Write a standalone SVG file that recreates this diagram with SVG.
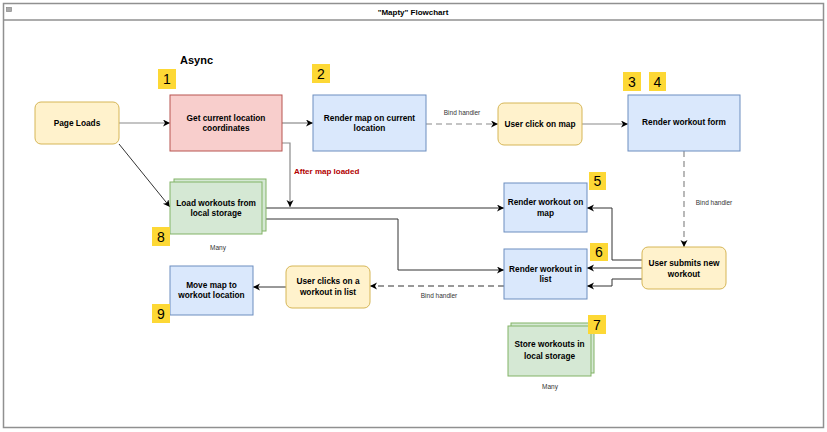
<svg xmlns="http://www.w3.org/2000/svg" width="827" height="432" viewBox="0 0 827 432">
<style>
text{font-family:"Liberation Sans",Arial,sans-serif;}
.lbl{font-size:8.3px;font-weight:bold;fill:#000;text-anchor:middle;}
.num{font-size:14px;fill:#000;text-anchor:middle;}
.small{font-size:6.5px;fill:#333;text-anchor:middle;}
.yel{fill:#fff2cc;stroke:#d6b656;stroke-width:1;}
.red{fill:#f8cecc;stroke:#b85450;stroke-width:1;}
.blue{fill:#dae8fc;stroke:#6c8ebf;stroke-width:1;}
.green{fill:#d5e8d4;stroke:#82b366;stroke-width:1;}
.badge{fill:#fdd835;stroke:none;}
.c{fill:none;stroke:#333;stroke-width:1;marker-end:url(#arr);}
.cg{fill:none;stroke:#8a8a8a;stroke-width:1.2;marker-end:url(#arr);}
.d{stroke-dasharray:6 4;}
</style>
<defs>
<marker id="arr" markerUnits="userSpaceOnUse" markerWidth="8" markerHeight="8" refX="7" refY="3.5" orient="auto">
<path d="M0,0 L7,3.5 L0,7 L2,3.5 Z" fill="#000"/>
</marker>
</defs>
<rect width="827" height="432" fill="#fff"/>
<g id="frame">
<rect x="3.5" y="3.5" width="820" height="424" fill="#fff" stroke="#909090" stroke-width="1.5"/>
<line x1="3.5" y1="20" x2="823.5" y2="20" stroke="#909090" stroke-width="1.5"/>
<rect x="6.5" y="7.5" width="5" height="4" fill="#aaa" stroke="#888" stroke-width="0.7"/>
<text x="413" y="15" style="font-size:8px;font-weight:bold;text-anchor:middle;">"Mapty" Flowchart</text>
</g>
<text id="async" x="180" y="64" style="font-size:11px;font-weight:bold;">Async</text>
<g id="connectors">
<path class="cg" d="M119,123 L170,123"/>
<path class="cg" d="M282,123 L313,123"/>
<path class="cg d" d="M426,124 L498,124"/>
<text class="small" x="462" y="115">Bind handler</text>
<path class="cg" d="M582,124 L628,124"/>
<path class="cg d" d="M684,151 L684,247"/>
<text class="small" x="714" y="205">Bind handler</text>
<path class="cg" d="M282,143 L290,143 L290,207"/>
<text x="294" y="174" style="font-size:8px;font-weight:bold;fill:#b20000;">After map loaded</text>
<path class="c" d="M119,144 L170,207"/>
<path class="c" d="M262,208 L504,208"/>
<path class="c" d="M266,219 L398,219 L398,270 L504,270"/>
<path class="c" d="M642,260 L612,260 L612,208 L587,208"/>
<path class="c" d="M642,268 L587,268"/>
<path class="c" d="M642,279 L612,279 L612,286 L587,286"/>
<path class="c d" d="M504,286 L370,286"/>
<text class="small" x="439" y="298">Bind handler</text>
<path class="c" d="M286,287 L253,287"/>
</g>
<g id="page-loads">
<rect class="yel" x="35" y="102" width="84" height="42" rx="6"/>
<text class="lbl" x="77" y="126">Page Loads</text>
</g>
<g id="get-location">
<rect class="red" x="170" y="95" width="112" height="56"/>
<text class="lbl" x="226" y="121">Get current location</text>
<text class="lbl" x="226" y="131">coordinates</text>
<rect class="badge" x="158" y="69" width="18" height="20"/>
<text class="num" x="167" y="84">1</text>
</g>
<g id="render-map">
<rect class="blue" x="313" y="95" width="113" height="56"/>
<text class="lbl" x="369.5" y="121">Render map on current</text>
<text class="lbl" x="369.5" y="131">location</text>
<rect class="badge" x="312" y="64" width="18" height="19"/>
<text class="num" x="321" y="79">2</text>
</g>
<g id="user-click-map">
<rect class="yel" x="498" y="103" width="84" height="42" rx="6"/>
<text class="lbl" x="540" y="127">User click on map</text>
</g>
<g id="render-form">
<rect class="blue" x="628" y="95" width="112" height="56"/>
<text class="lbl" x="684" y="125">Render workout form</text>
<rect class="badge" x="623" y="72" width="18" height="19"/>
<text class="num" x="632" y="87">3</text>
<rect class="badge" x="649" y="72" width="17" height="19"/>
<text class="num" x="657.5" y="87">4</text>
</g>
<g id="load-workouts">
<rect class="green" x="174" y="179" width="92" height="52"/>
<rect class="green" x="170" y="182" width="92" height="52"/>
<text class="lbl" x="216" y="206">Load workouts from</text>
<text class="lbl" x="216" y="216">local storage</text>
<rect class="badge" x="152" y="227" width="18" height="19"/>
<text class="num" x="161" y="242">8</text>
<text class="small" x="218" y="250">Many</text>
</g>
<g id="render-on-map">
<rect class="blue" x="504" y="183" width="83" height="49"/>
<text class="lbl" x="545.5" y="205">Render workout on</text>
<text class="lbl" x="545.5" y="216">map</text>
<rect class="badge" x="589" y="172" width="17" height="18"/>
<text class="num" x="597.5" y="186">5</text>
</g>
<g id="render-in-list">
<rect class="blue" x="504" y="249" width="83" height="50"/>
<text class="lbl" x="545.5" y="272">Render workout in</text>
<text class="lbl" x="545.5" y="282">list</text>
<rect class="badge" x="590" y="243" width="18" height="18"/>
<text class="num" x="599" y="257">6</text>
</g>
<g id="user-submits">
<rect class="yel" x="642" y="247" width="84" height="42" rx="6"/>
<text class="lbl" x="684" y="266">User submits new</text>
<text class="lbl" x="684" y="277">workout</text>
</g>
<g id="user-clicks-list">
<rect class="yel" x="286" y="266" width="84" height="42" rx="6"/>
<text class="lbl" x="328" y="284">User clicks on a</text>
<text class="lbl" x="328" y="295">workout in list</text>
</g>
<g id="move-map">
<rect class="blue" x="170" y="266" width="83" height="49"/>
<text class="lbl" x="211.5" y="288">Move map to</text>
<text class="lbl" x="211.5" y="298">workout location</text>
<rect class="badge" x="152" y="304" width="18" height="19"/>
<text class="num" x="161" y="319">9</text>
</g>
<g id="store-workouts">
<rect class="green" x="511" y="323" width="83" height="50"/>
<rect class="green" x="508" y="326" width="83" height="50"/>
<text class="lbl" x="549.5" y="347">Store workouts in</text>
<text class="lbl" x="549.5" y="359">local storage</text>
<rect class="badge" x="588" y="315" width="18" height="19"/>
<text class="num" x="597" y="330">7</text>
<text class="small" x="550" y="389">Many</text>
</g>
</svg>
